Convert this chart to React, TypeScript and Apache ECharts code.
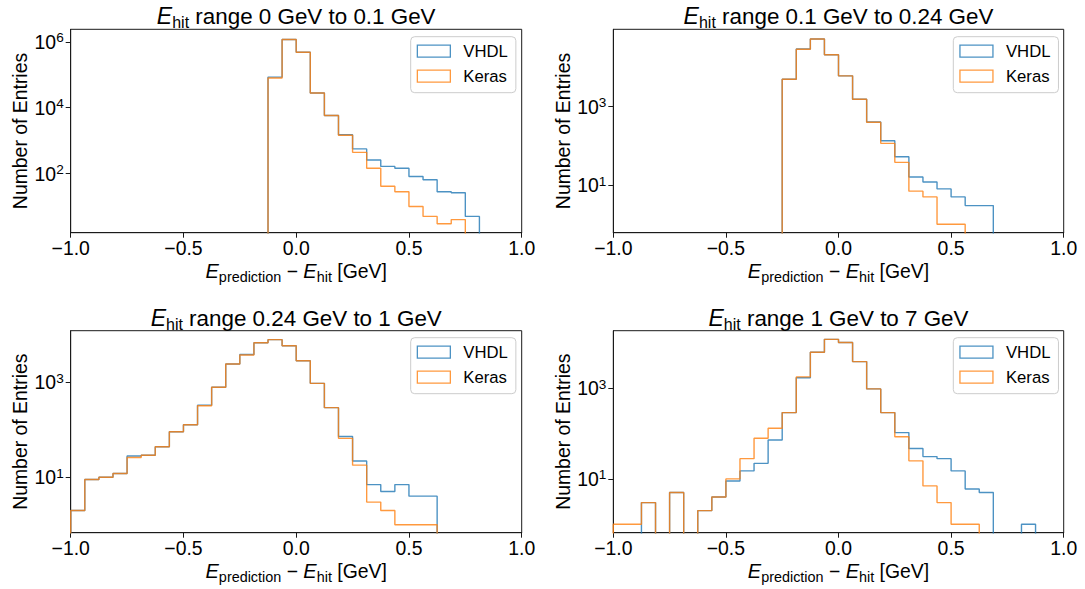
import React, { useEffect, useRef } from "react";
import * as echarts from "echarts";

const FONT = "'Liberation Sans', Arial, Helvetica, sans-serif";
const BLUE = "#1f77b4";
const ORANGE = "#ff7f0e";
const AXIS_COLOR = "#1a1a1a";

// Histogram binning: 32 bins from -1 to 1
const BIN_START = -1;
const BIN_WIDTH = 0.0625;

const SERIES_NAMES = ["VHDL", "Keras"];
const TITLE_RANGES = [
  "0 GeV to 0.1 GeV",
  "0.1 GeV to 0.24 GeV",
  "0.24 GeV to 1 GeV",
  "1 GeV to 7 GeV",
];

// y-axis limits (log scale) and labelled decades
const Y_MIN = [1.6, 0.61, 0.68, 0.65];
const Y_MAX = [2.4e6, 9.4e4, 1.22e4, 1.86e4];
const Y_TICK_EXP = [[2, 4, 6], [1, 3], [1, 3], [1, 3]];

// Panel 1: E_hit 0 - 0.1 GeV
const P1_VHDL = [0, 0, 0, 0, 0, 0, 0, 0, 0, 0, 0, 0, 0, 0, 85000, 1180000, 480000, 28000, 5800, 1500, 560, 257, 165, 145, 81, 65, 28, 26, 5, 0, 0, 0];
const P1_KERAS = [0, 0, 0, 0, 0, 0, 0, 0, 0, 0, 0, 0, 0, 0, 80000, 1180000, 480000, 28000, 5800, 1450, 440, 145, 41, 28, 10, 5, 3, 4, 0, 0, 0, 0];

// Panel 2: E_hit 0.1 - 0.24 GeV
const P2_VHDL = [0, 0, 0, 0, 0, 0, 0, 0, 0, 0, 0, 0, 5000, 29500, 53000, 21000, 6100, 1540, 407, 135, 53, 16, 12, 8, 5, 3, 3, 0, 0, 0, 0, 0];
const P2_KERAS = [0, 0, 0, 0, 0, 0, 0, 0, 0, 0, 0, 0, 5000, 29000, 53000, 21000, 6100, 1540, 400, 116, 38, 7, 5, 1, 1, 0, 0, 0, 0, 0, 0, 0];

// Panel 3: E_hit 0.24 - 1 GeV
const P3_VHDL = [2, 9, 10, 12, 28, 29, 44, 91, 128, 330, 784, 2430, 3850, 6800, 7900, 5900, 2850, 950, 292, 72, 22, 7, 5, 7, 4, 4, 0, 0, 0, 0, 0, 0];
const P3_KERAS = [2, 9, 10, 12, 26, 29, 44, 91, 128, 321, 784, 2430, 3760, 6800, 7900, 5900, 2850, 950, 292, 66, 18, 3, 2, 1, 1, 1, 0, 0, 0, 0, 0, 0];

// Panel 4: E_hit 1 - 7 GeV
const P4_VHDL = [0, 0, 3, 0, 5, 0, 2, 4, 9, 15, 22, 72, 290, 1700, 6240, 12000, 10200, 3870, 966, 290, 105, 47, 31, 28, 15, 6, 5, 0, 0, 1, 0, 0];
const P4_KERAS = [1, 1, 3, 0, 5, 0, 2, 4, 10, 28, 79, 131, 290, 1780, 6240, 12000, 10200, 3870, 966, 290, 85, 25, 7, 3, 1, 1, 0, 0, 0, 0, 0, 0];

const PANEL_DATA = [
  [P1_VHDL, P1_KERAS],
  [P2_VHDL, P2_KERAS],
  [P3_VHDL, P3_KERAS],
  [P4_VHDL, P4_KERAS],
];

// layout
const GRIDS = [
  { left: 70.7, top: 29.3, width: 451, height: 203.4 },
  { left: 613.3, top: 29.3, width: 450.4, height: 203.4 },
  { left: 70.7, top: 330.7, width: 451, height: 202 },
  { left: 613.3, top: 330.7, width: 450.4, height: 202 },
];
const TITLE_TOPS = [2.3, 2.3, 304, 304];
const LEGEND_POS = [
  { left: 410.7, top: 36.7 },
  { left: 953.3, top: 36.7 },
  { left: 410.7, top: 337.7 },
  { left: 953.3, top: 337.7 },
];

const FLOOR = 1e-3; // empty bins go below the visible range (clipped)

function stepPoints(counts: number[]): [number, number][] {
  const pts: [number, number][] = [[BIN_START, FLOOR]];
  counts.forEach((c, i) => {
    const v = c > 0 ? c : FLOOR;
    const x0 = BIN_START + i * BIN_WIDTH;
    const x1 = BIN_START + (i + 1) * BIN_WIDTH;
    pts.push([x0, v], [x1, v]);
  });
  pts.push([BIN_START + counts.length * BIN_WIDTH, FLOOR]);
  return pts;
}

const TICK_FS = 19.4;
const LABEL_FS = 19.4;
const TITLE_FS = 22.4;
const LEGEND_FS = 16.7;

function buildOption() {
  const titleRich = {
    i: { fontFamily: FONT, fontSize: TITLE_FS + 0.6, fontStyle: "italic", fontWeight: "normal", color: "#000", lineHeight: 28 },
    s: { fontFamily: FONT, fontSize: 16, fontWeight: "normal", color: "#000", lineHeight: 18, verticalAlign: "bottom" },
    n: { fontFamily: FONT, fontSize: TITLE_FS, fontWeight: "normal", color: "#000", lineHeight: 28 },
  };
  const nameRich = {
    i: { fontFamily: FONT, fontSize: LABEL_FS + 0.6, fontStyle: "italic", color: "#000", lineHeight: 26 },
    s: { fontFamily: FONT, fontSize: 14.4, color: "#000", lineHeight: 18, verticalAlign: "bottom" },
    n: { fontFamily: FONT, fontSize: LABEL_FS, color: "#000", lineHeight: 26 },
  };
  const yLabelRich = {
    b: { fontFamily: FONT, fontSize: TICK_FS, color: "#000", lineHeight: 22 },
    p: { fontFamily: FONT, fontSize: 13.6, color: "#000", lineHeight: 11.4, verticalAlign: "top" },
  };

  const grid = GRIDS.map((g) => ({
    ...g,
    show: true,
    borderColor: AXIS_COLOR,
    borderWidth: 1,
    backgroundColor: "transparent",
    containLabel: false,
    outerBoundsMode: "none",
  }));

  const title = GRIDS.map((g, k) => ({
    text: `{i|E}{s|hit}{n| range ${TITLE_RANGES[k]}}`,
    left: g.left + g.width / 2,
    top: TITLE_TOPS[k],
    textAlign: "center",
    textVerticalAlign: "top",
    padding: 0,
    textStyle: { rich: titleRich, fontFamily: FONT, fontSize: TITLE_FS, fontWeight: "normal", color: "#000" },
  }));

  const legend = GRIDS.map((_, k) => ({
    orient: "vertical",
    left: LEGEND_POS[k].left,
    top: LEGEND_POS[k].top,
    itemWidth: 33,
    itemHeight: 12,
    itemGap: 8,
    padding: [6, 8, 8, 6],
    backgroundColor: "#ffffff",
    borderColor: "#cccccc",
    borderWidth: 1,
    borderRadius: 4,
    selectedMode: false,
    textStyle: { fontFamily: FONT, fontSize: LEGEND_FS, color: "#000", padding: [0, 0, 0, 8], lineHeight: 16 },
    data: SERIES_NAMES.map((name, s) => ({
      name,
      icon: "rect",
      itemStyle: {
        color: "rgba(0,0,0,0)",
        borderColor: s === 0 ? BLUE : ORANGE,
        borderWidth: 1.3,
        opacity: 0.8,
      },
    })),
  }));

  const xAxis = GRIDS.map((_, k) => ({
    gridIndex: k,
    type: "value",
    min: -1,
    max: 1,
    interval: 0.5,
    axisLine: { show: true, onZero: false, lineStyle: { color: AXIS_COLOR, width: 1 } },
    axisTick: { show: true, length: 5, lineStyle: { color: AXIS_COLOR, width: 1 } },
    axisLabel: {
      show: true,
      margin: 5.5,
      fontFamily: FONT,
      fontSize: TICK_FS,
      color: "#000",
      formatter: (v: number) => (v < 0 ? "\u2212" + Math.abs(v).toFixed(1) : v.toFixed(1)),
    },
    splitLine: { show: false },
    name: "{i|E}{s|prediction}{n| \u2212 }{i|E}{s|hit}{n| [GeV]}",
    nameLocation: "middle",
    nameGap: 25,
    nameTextStyle: { rich: nameRich, fontFamily: FONT, fontSize: LABEL_FS, color: "#000" },
  }));

  const yAxis: any[] = [];
  GRIDS.forEach((_, k) => {
    // data axis (log)
    yAxis.push({
      gridIndex: k,
      type: "log",
      logBase: 10,
      position: "left",
      min: Y_MIN[k],
      max: Y_MAX[k],
      axisLine: { show: true, onZero: false, lineStyle: { color: AXIS_COLOR, width: 1 } },
      axisTick: { show: false },
      axisLabel: { show: false },
      splitLine: { show: false },
      minorTick: { show: false },
      minorSplitLine: { show: false },
    });
    // tick/label axis in log10 space, same extent
    yAxis.push({
      gridIndex: k,
      type: "value",
      position: "left",
      min: Math.log10(Y_MIN[k]),
      max: Math.log10(Y_MAX[k]),
      axisLine: { show: false, onZero: false },
      axisTick: {
        show: true,
        length: 5,
        customValues: Y_TICK_EXP[k],
        lineStyle: { color: AXIS_COLOR, width: 1 },
      },
      axisLabel: {
        show: true,
        customValues: Y_TICK_EXP[k],
        margin: 7,
        formatter: (v: number) => `{b|10}{p|${Math.round(v)}}`,
        rich: yLabelRich,
      },
      splitLine: { show: false },
      name: "Number of Entries",
      nameLocation: "middle",
      nameGap: 41,
      nameTextStyle: { fontFamily: FONT, fontSize: LABEL_FS, color: "#000" },
    });
  });

  const series: any[] = [];
  PANEL_DATA.forEach((pair, k) => {
    pair.forEach((counts, s) => {
      const color = s === 0 ? BLUE : ORANGE;
      series.push({
        type: "line",
        name: SERIES_NAMES[s],
        xAxisIndex: k,
        yAxisIndex: 2 * k,
        data: stepPoints(counts),
        symbol: "none",
        showSymbol: false,
        clip: true,
        silent: true,
        z: 2 + s,
        itemStyle: { color },
        lineStyle: { color, width: 1.4, opacity: 0.8 },
      });
    });
  });

  return {
    animation: false,
    backgroundColor: "#ffffff",
    textStyle: { fontFamily: FONT },
    grid,
    title,
    legend,
    xAxis,
    yAxis,
    series,
  };
}

export default function App() {
  const ref = useRef<HTMLDivElement>(null);
  useEffect(() => {
    const chart = echarts.init(ref.current as HTMLDivElement, undefined, {
      renderer: "svg",
      width: 1085,
      height: 589,
    });
    chart.setOption(buildOption() as any);
    return () => chart.dispose();
  }, []);
  return (
    <div
      ref={ref}
      style={{ position: "fixed", left: 0, top: 0, width: 1085, height: 589, background: "#fff" }}
    />
  );
}
